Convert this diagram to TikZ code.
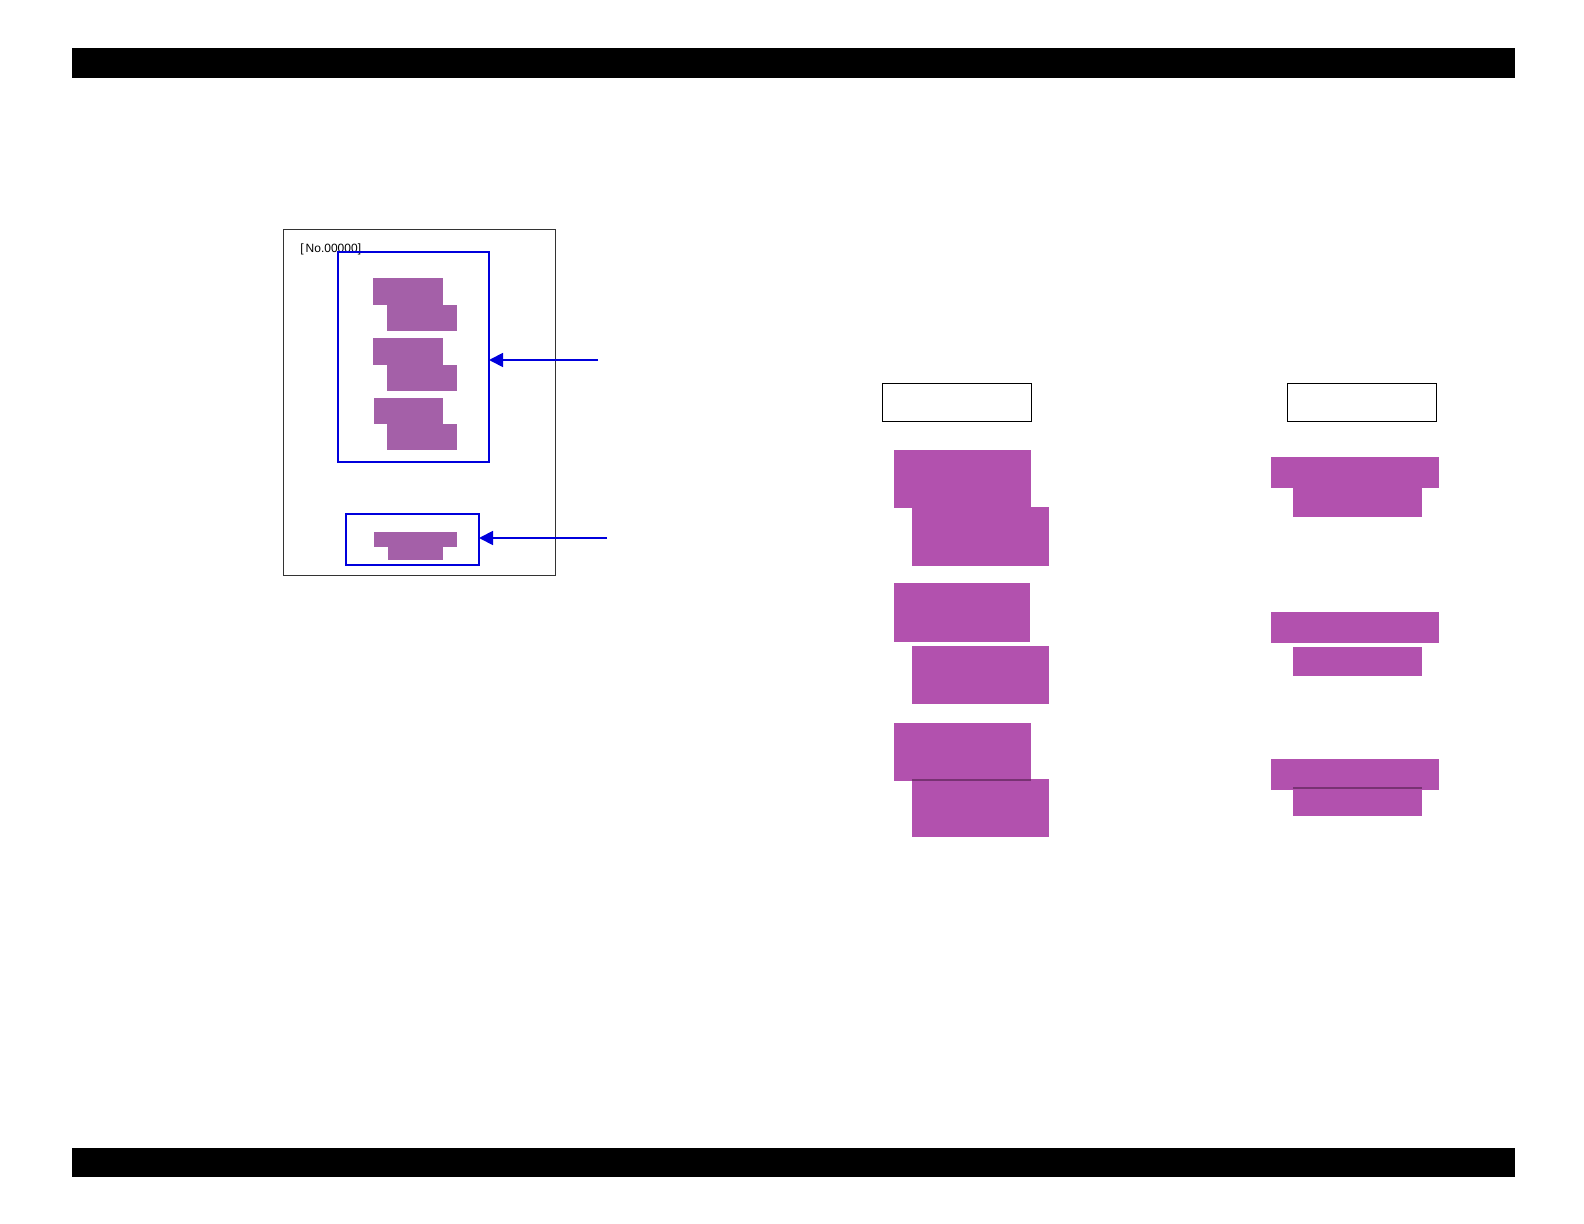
\documentclass[tikz,border=0pt]{standalone}
\usepackage{fontspec}
\setmainfont{Liberation Sans}
\usetikzlibrary{fit,arrows.meta}
\definecolor{pA}{RGB}{164,96,168}
\definecolor{pB}{RGB}{178,81,174}
\definecolor{pDark}{RGB}{120,50,115}
\definecolor{bl}{RGB}{0,0,220}
\tikzset{
  box/.style={fit={#1},inner sep=0pt,outer sep=0pt},
  bar/.style={fill=black,draw=none},
  frame/.style={draw=black!80,line width=0.5pt},
  bluebox/.style={draw=bl,line width=1.1pt},
  blkA/.style={fill=pA,draw=none},
  blkB/.style={fill=pB,draw=none},
  label/.style={draw=black,line width=0.6pt},
  arr/.style={draw=bl,line width=0.9pt,-{Triangle[length=7pt,width=7pt]}},
}
\begin{document}
\begin{tikzpicture}[x=0.5pt,y=-0.5pt]
\useasboundingbox (0,0) rectangle (1584,1224);
% header / footer bars
\node[box={(72,48)(1515,78)},bar] (top) {};
\node[box={(72,1148)(1515,1177)},bar] (bot) {};
% left panel
\node[box={(283.5,229.5)(555.5,575.5)},frame] (panel) {};
\node[anchor=west,inner sep=0pt,font=\fontsize{6}{7}\selectfont] (no) at (300,249) {[\,No.00000]};
\node[box={(373,278)(443,305.5)},blkA] (l1a) {};
\node[box={(387,305)(457,331)},blkA] (l1b) {};
\node[box={(373,338)(443,365.5)},blkA] (l2a) {};
\node[box={(387,365)(457,391)},blkA] (l2b) {};
\node[box={(374,398)(443,424.5)},blkA] (l3a) {};
\node[box={(387,424)(457,450)},blkA] (l3b) {};
\node[box={(374,532)(457,547)},blkA] (l4a) {};
\node[box={(388,546.5)(443,560)},blkA] (l4b) {};
\node[box={(338,252)(489,462)},bluebox] (big) {};
\node[box={(346,514)(479,565)},bluebox] (small) {};
\coordinate (s1) at (598,360);
\coordinate (s2) at (607,538);
\draw[arr] (s1) -- (s1 -| big.east);
\draw[arr] (s2) -- (s2 -| small.east);
% middle column
\node[box={(882.5,383.5)(1031.5,421.5)},label] (lab1) {};
\node[box={(894,450)(1031,508)},blkB] (m1a) {};
\node[box={(912,507.5)(1049,566)},blkB] (m1b) {};
\node[box={(894,583)(1030,642)},blkB] (m2a) {};
\node[box={(912,646)(1049,704)},blkB] (m2b) {};
\node[box={(894,723)(1031,781)},blkB] (m3a) {};
\node[box={(912,779)(1049,837)},blkB] (m3b) {};
\draw[pDark,line width=1pt] (912,780) -- (1031,780);
% right column
\node[box={(1287.5,383.5)(1436.5,421.5)},label] (lab2) {};
\node[box={(1271,457)(1439,488)},blkB] (r1a) {};
\node[box={(1293,487.5)(1422,517)},blkB] (r1b) {};
\node[box={(1271,612)(1439,643)},blkB] (r2a) {};
\node[box={(1293,647)(1422,676)},blkB] (r2b) {};
\node[box={(1271,759)(1439,790)},blkB] (r3a) {};
\node[box={(1293,787)(1422,816)},blkB] (r3b) {};
\draw[pDark,line width=1pt] (1293,787.5) -- (1422,787.5);
\end{tikzpicture}
\end{document}
